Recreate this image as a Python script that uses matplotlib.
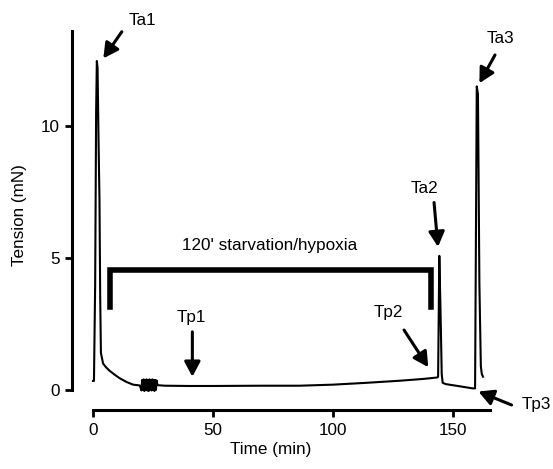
import matplotlib
matplotlib.use("Agg")
import matplotlib.pyplot as plt

plt.rcParams['font.family'] = ['Liberation Sans', 'DejaVu Sans']

# tension trace (time in min, tension in mN)
time_min = [0.0, 0.4, 0.9, 1.3, 1.6, 1.9, 2.3, 2.7, 3.0, 3.3, 4.2, 5.5, 7.0, 9.0, 11.0, 14.0, 16.7,
            19.5, 20.2, 20.5, 20.8, 21.1, 21.4, 21.7, 22.0, 22.3, 22.6, 22.9, 23.2, 23.5, 23.8,
            24.1, 24.4, 24.7, 25.0, 25.3, 25.6, 25.9, 26.2, 26.5, 26.9,
            30.0, 40.0, 50.0, 70.0, 86.0, 100.0, 114.0, 128.0, 138.0, 143.3,
            143.8, 144.3, 144.8, 145.3, 145.7, 147.0, 152.0, 158.1, 159.2,
            159.9, 160.4, 161.0, 161.6, 162.0, 162.5]
tension_mn = [0.34, 0.34, 4.0, 10.5, 12.46, 12.2, 9.5, 7.2, 3.5, 1.4, 1.0, 0.85, 0.72, 0.58, 0.45, 0.3, 0.2,
              0.17, -0.02, 0.38, 0.0, 0.4, -0.04, 0.38, 0.0, 0.4, -0.02, 0.38, -0.04, 0.4, 0.0,
              0.38, -0.02, 0.4, 0.0, 0.38, -0.04, 0.38, 0.0, 0.36, 0.18,
              0.16, 0.15, 0.15, 0.16, 0.16, 0.2, 0.27, 0.35, 0.42, 0.47,
              0.5, 5.08, 3.0, 0.6, 0.27, 0.22, 0.15, 0.06, 0.06,
              11.5, 11.2, 4.0, 0.9, 0.6, 0.5]

# annotations: label, label position, arrow tail, arrow tip
labels = ['Ta1', 'Ta2', 'Ta3', 'Tp1', 'Tp2', 'Tp3']
label_pos = [(20.4, 14.0), (137.9, 7.65), (169.6, 13.33), (40.8, 2.75), (122.9, 2.93), (184.6, -0.57)]
arrow_tail = [(12.0, 13.57), (142.1, 7.1), (167.5, 12.69), (41.4, 2.2), (129.6, 2.27), (174.4, -0.57)]
arrow_tip = [(4.3, 12.56), (143.75, 5.42), (161.0, 11.62), (41.4, 0.5), (139.7, 0.86), (160.6, -0.06)]

# starvation/hypoxia bracket
bracket_t = [7.1, 7.1, 141.0, 141.0]
bracket_v = [3.15, 4.55, 4.55, 3.15]
bracket_text = "120' starvation/hypoxia"

fs = 12.3

fig = plt.figure(figsize=(5.53, 4.69), dpi=100)
ax = fig.add_axes([72 / 553, 59 / 469, 429 / 553, 394.9 / 469])

ax.plot(time_min, tension_mn, color='black', linewidth=1.5, solid_joinstyle='round')
ax.plot(bracket_t, bracket_v, color='black', linewidth=4, solid_joinstyle='miter')
ax.text(73.75, 5.49, bracket_text, ha='center', va='center', fontsize=fs)

for lab, pos, tail, tip in zip(labels, label_pos, arrow_tail, arrow_tip):
    ax.text(pos[0], pos[1], lab, ha='center', va='center', fontsize=fs)
    ax.annotate('', xy=tip, xytext=tail,
                arrowprops=dict(arrowstyle='-|>,head_length=0.45,head_width=0.24',
                                mutation_scale=20, lw=2.2, color='black',
                                shrinkA=0, shrinkB=0))

ax.set_xlim(-8.75, 170)
ax.set_ylim(-0.76, 14.2)
for s in ['top', 'right']:
    ax.spines[s].set_visible(False)
ax.spines['left'].set_linewidth(2.2)
ax.spines['bottom'].set_linewidth(2.2)
ax.spines['left'].set_bounds(0, 13.6)
ax.spines['bottom'].set_bounds(0, 165.4)

ax.set_xticks([0, 50, 100, 150])
ax.set_yticks([0, 5, 10])
ax.tick_params(width=2, length=5, labelsize=fs, pad=4)

fig.text(20 / 553, 1 - 215 / 469, 'Tension (mN)', rotation=90, ha='center', va='center', fontsize=fs)
fig.text(271 / 553, 1 - 449 / 469, 'Time (min)', ha='center', va='center', fontsize=fs)

fig.savefig('out.png', dpi=100)
